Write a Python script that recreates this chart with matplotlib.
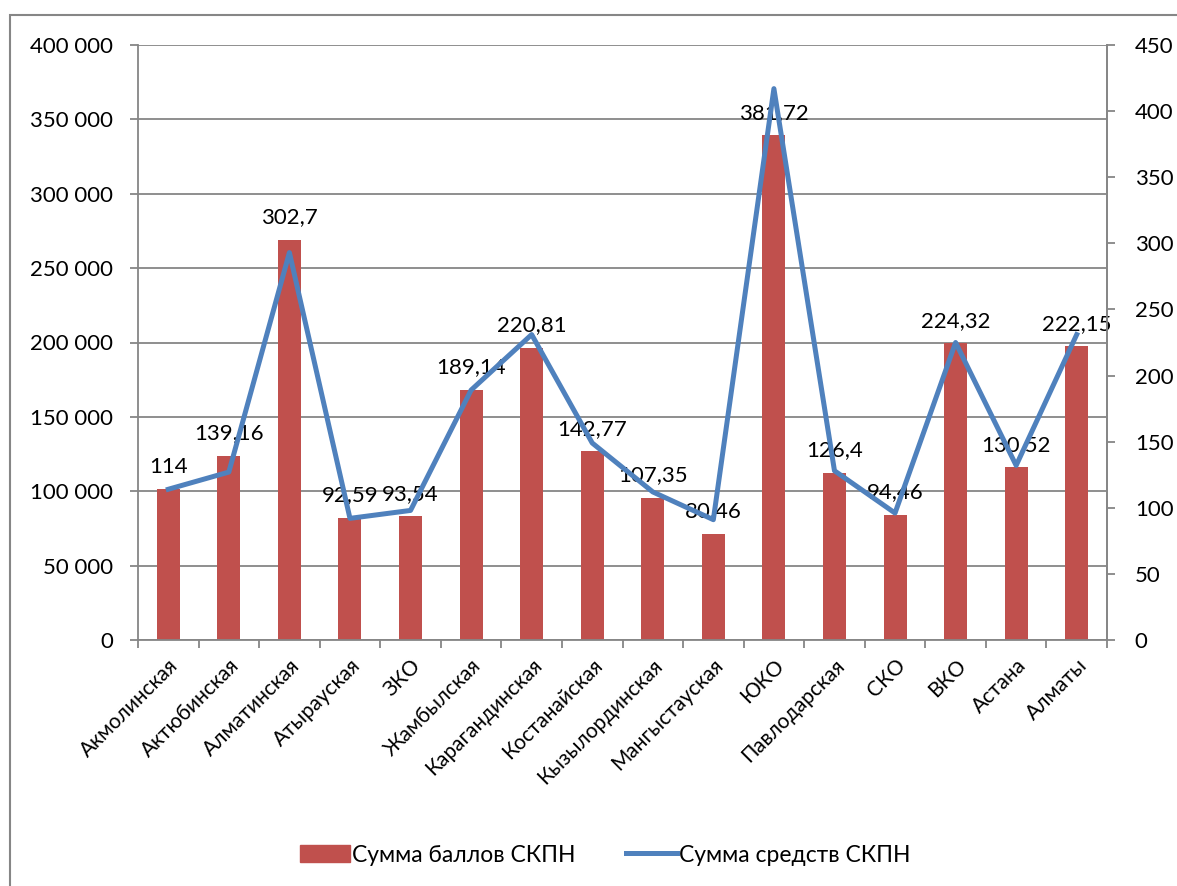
import matplotlib.pyplot as plt
import matplotlib.patches as mpatches
from matplotlib.lines import Line2D
import numpy as np

plt.rcParams['font.family'] = ['Lato', 'DejaVu Sans']

regions = ["Акмолинская", "Актюбинская", "Алматинская", "Атырауская", "ЗКО",
           "Жамбылская", "Карагандинская", "Костанайская", "Кызылординская",
           "Мангыстауская", "ЮКО", "Павлодарская", "СКО", "ВКО", "Астана", "Алматы"]

# Сумма баллов СКПН (left axis)
ball_sum = [101300, 123700, 269100, 82300, 83100, 168100, 196300, 126900,
            95400, 71500, 339300, 112400, 84000, 199400, 116000, 197500]
ball_labels = ["114", "139,16", "302,7", "92,59", "93,54", "189,14", "220,81", "142,77",
               "107,35", "80,46", "381,72", "126,4", "94,46", "224,32", "130,52", "222,15"]

# Сумма средств СКПН (right axis)
fund_sum = [114, 127, 293, 92, 98, 189, 231, 149, 112, 91, 417, 128, 96, 225, 132, 231]

bar_color = '#C0504D'
line_color = '#4F81BD'
grid_color = '#868686'

fig = plt.figure(figsize=(11.77, 8.86), dpi=100)
ax = fig.add_axes([138 / 1177, 1 - 640 / 886, (1107 - 138) / 1177, (640 - 45) / 886])

x = np.arange(len(regions))
ax.bar(x, ball_sum, width=0.38, color=bar_color, zorder=2)
ax.set_xlim(-0.5, len(regions) - 0.5)
ax.set_ylim(0, 400000)
ax.set_yticks(np.arange(0, 400001, 50000))
ax.set_yticklabels([f"{v:,}".replace(",", " ") for v in range(0, 400001, 50000)], fontsize=16)
ax.yaxis.grid(True, color=grid_color, linewidth=1.3, zorder=0)
ax.set_axisbelow(True)

ax.set_xticks(x)
ax.set_xticklabels(regions, rotation=45, ha='right', rotation_mode='anchor', fontsize=15)
ax.set_xticks(np.arange(-0.5, len(regions)), minor=True)
ax.tick_params(axis='x', which='major', length=0, pad=11)
ax.tick_params(axis='x', which='minor', length=6, color=grid_color, width=1.3)
ax.tick_params(axis='y', length=6, color=grid_color, width=1.3, pad=12)

ax.spines['top'].set_visible(False)
for s in ['left', 'bottom', 'right']:
    ax.spines[s].set_color(grid_color)
    ax.spines[s].set_linewidth(1.3)

for xi, v, lab in zip(x, ball_sum, ball_labels):
    ax.annotate(lab, (xi, v), xytext=(0, 9), textcoords='offset points',
                ha='center', va='bottom', fontsize=16, zorder=5)

ax2 = ax.twinx()
ax2.plot(x, fund_sum, color=line_color, linewidth=3.6, zorder=3)
ax2.set_ylim(0, 450)
ax2.set_yticks(np.arange(0, 451, 50))
ax2.tick_params(axis='y', length=6, color=grid_color, width=1.3, pad=14, labelsize=16)
for s in ['top', 'left', 'bottom']:
    ax2.spines[s].set_visible(False)
ax2.spines['right'].set_color(grid_color)
ax2.spines['right'].set_linewidth(1.3)

handles = [mpatches.Patch(color=bar_color, label='Сумма баллов СКПН'),
           Line2D([0], [0], color=line_color, linewidth=3.6, label='Сумма средств СКПН')]
fig.legend(handles=handles, loc='center', bbox_to_anchor=(0.514, 1 - 855 / 886),
           ncol=2, frameon=False, fontsize=16.5, handlelength=2.2, handletextpad=0.1,
           columnspacing=2.2)

# outer chart border
fig.patches.append(mpatches.Rectangle((10 / 1177, -0.05), 1.1, 1 - 15 / 886 + 0.05,
                                      transform=fig.transFigure, fill=False,
                                      edgecolor=grid_color, linewidth=1.5))

fig.savefig('out.png', dpi=100)
